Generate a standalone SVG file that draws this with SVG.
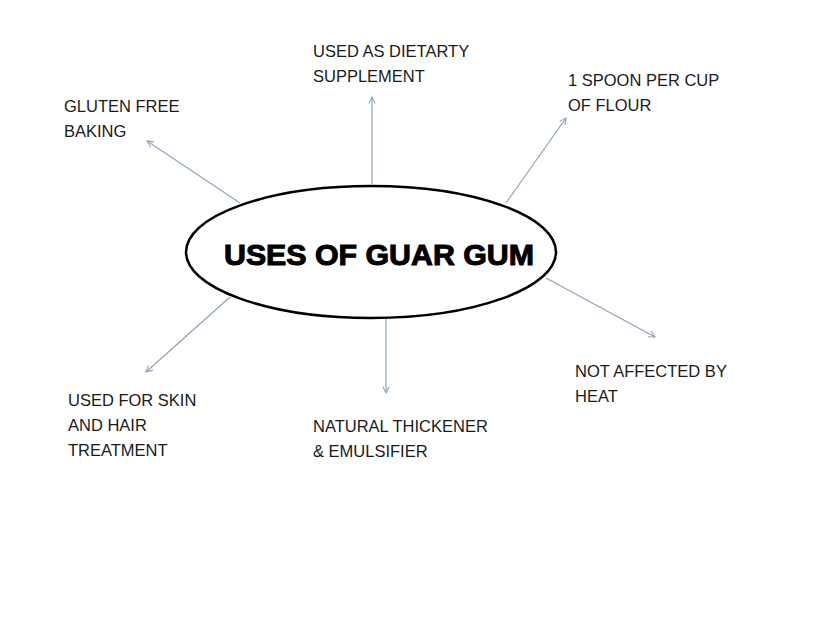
<svg xmlns="http://www.w3.org/2000/svg" width="828" height="621" viewBox="0 0 828 621">
<style>
.lbl{font-family:"Liberation Sans","Open Sans",Arial,sans-serif;font-size:16.5px;fill:#1a1a1a}
.title{font-family:"Liberation Sans",Arial,sans-serif;font-size:29px;font-weight:bold;fill:#000;stroke:#000;stroke-width:1}
.conn{stroke:#8ea3b9;stroke-width:1.2;fill:none;marker-end:url(#arr)}
</style>
<defs>
<marker id="arr" viewBox="0 0 10 10" refX="9" refY="5" markerWidth="8" markerHeight="8" markerUnits="userSpaceOnUse" orient="auto">
<polyline points="1,1 9,5 1,9" fill="none" stroke="#8ea3b9" stroke-width="1.3"/>
</marker>
</defs>
<rect width="828" height="621" fill="#fff"/>
<g id="connectors">
<line class="conn" x1="240" y1="203" x2="147" y2="141"/>
<line class="conn" x1="372" y1="184" x2="372" y2="97"/>
<line class="conn" x1="506" y1="203" x2="566" y2="118"/>
<line class="conn" x1="546" y1="278" x2="655" y2="337"/>
<line class="conn" x1="386" y1="318" x2="386" y2="393"/>
<line class="conn" x1="230" y1="297" x2="146" y2="372"/>
</g>
<g id="center">
<ellipse cx="371" cy="252" rx="185" ry="66" fill="#fff" stroke="#000" stroke-width="2.5"/>
<text class="title" x="224" y="265" textLength="310" lengthAdjust="spacingAndGlyphs">USES OF GUAR GUM</text>
</g>
<g id="n-dietary"><text class="lbl" x="313" y="57">USED AS DIETARTY</text><text class="lbl" x="313" y="82">SUPPLEMENT</text></g>
<g id="n-spoon"><text class="lbl" x="568" y="86">1 SPOON PER CUP</text><text class="lbl" x="568" y="111">OF FLOUR</text></g>
<g id="n-gluten"><text class="lbl" x="64" y="112">GLUTEN FREE</text><text class="lbl" x="64" y="137">BAKING</text></g>
<g id="n-heat"><text class="lbl" x="575" y="377">NOT AFFECTED BY</text><text class="lbl" x="575" y="402">HEAT</text></g>
<g id="n-skin"><text class="lbl" x="68" y="406">USED FOR SKIN</text><text class="lbl" x="68" y="431">AND HAIR</text><text class="lbl" x="68" y="456">TREATMENT</text></g>
<g id="n-thick"><text class="lbl" x="313" y="432">NATURAL THICKENER</text><text class="lbl" x="313" y="457">&amp; EMULSIFIER</text></g>
</svg>
